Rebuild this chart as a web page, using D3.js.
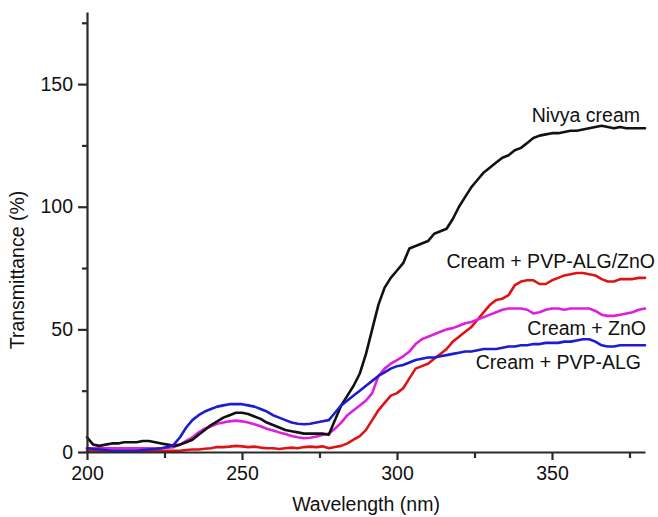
<!DOCTYPE html>
<html>
<head>
<meta charset="utf-8">
<script src="https://cdn.jsdelivr.net/npm/d3@7"></script>
<style>
  html, body { margin: 0; padding: 0; background: #fff; }
  svg { display: block; font-family: "Liberation Sans", Arial, Helvetica, sans-serif; }
</style>
</head>
<body>
<svg id="chart" width="658" height="517"></svg>
<script>
// ---- data ----
const wavelengths = [200,202,204,206,208,210,212,214,216,218,220,222,224,226,228,230,232,234,236,238,240,242,244,246,248,250,252,254,256,258,260,262,264,266,268,270,272,274,276,278,280,282,284,286,288,290,292,294,296,298,300,302,304,306,308,310,312,314,316,318,320,322,324,326,328,330,332,334,336,338,340,342,344,346,348,350,352,354,356,358,360,362,364,366,368,370,372,374,376,378,380];

const nivyaCream = [6,3,2.5,3,3.5,3.5,4,4,4,4.5,4.5,4,3.5,3,2.5,3,4,5,7,9,11,12.5,14,15,16,16,15.5,14.5,13.5,12,11,10,9,8.5,8,7.5,7.5,7.5,7.5,7,13,19,23,27,32,40,50,60,67,71,74,77,83,84,85,86,89,90,91,95,100,104,108,111,114,116,118,120,121,123,124,126,128,129,129.5,130,130,130.5,131,131,131.5,132,132.5,133,132.5,132,132.5,132,132,132,132];

const creamPvpAlg = [1.5,1.2,1,0.8,0.5,0.5,0.5,0.5,0.5,0.8,1,1.2,1.5,2,3,6,10,13,15,16.5,17.5,18.5,19,19.5,19.5,19.5,19,18.5,17.5,16.5,15,14,13,12,11.5,11.3,11.5,12,12.5,13,16,19,21,23,25,27,29,31,32.5,34,35,35.5,36.5,37.5,38,38.5,38.5,39,39.5,40,40.5,41,41,41.5,42,42,42,42.5,43,43,43.5,43.5,44,44,44.5,44.5,44.5,45,45,45.5,46,46,45,43.5,43,43,43.5,43.5,43.5,43.5,43.5];

const creamZnO = [1.5,1.5,1.5,1.5,1.5,1.5,1.5,1.5,1.5,1.5,1.5,1.5,1.5,1.8,2,3,4.5,6,8,9.5,10.5,11.5,12,12.5,12.8,12.5,12,11.3,10.5,9.5,8.8,8,7.3,6.5,6,5.6,5.8,6.3,6.9,7.5,9.5,12,15,17,19,21,24,31,34,36,37.5,39,41,44,46,47,48,49,50,50.5,51.5,52.5,53,54,55,56,57,58,58.5,58.5,58.5,58,56.5,57,58,58.5,58.5,58,58.5,58.5,58.5,58.5,57.5,56,55.5,55.5,56,56.5,57,58,58.5];

const creamPvpAlgZnO = [0.5,0.5,0.5,0.5,0.5,0.5,0.5,0.5,0.5,0.5,0.5,0.5,0.5,0.5,0.5,0.5,0.8,1,1,1.3,1.5,2,2,2.2,2.5,2.3,2,2.2,1.8,1.5,1.5,1.2,1.5,1.8,1.5,2,2.2,2,2.3,1.5,2,2.5,3.5,5,6.5,9,13,17,20,23,24,26,30,34,35,36,38,40,42,45,47,49,51,54,57,60,62,62.5,64,68,69.5,70,70,68.5,68.5,70,71,72,72.5,73,73,72.5,72,70.5,69.5,69.5,70.5,70.5,70.5,71,71];

const seriesNames = ["Nivya cream", "Cream + PVP-ALG", "Cream + ZnO", "Cream + PVP-ALG/ZnO"];
const seriesValues = [nivyaCream, creamPvpAlg, creamZnO, creamPvpAlgZnO];

const xMajorTicks = [200, 250, 300, 350];
const xMinorTicks = [225, 275, 325, 375];
const yMajorTicks = [0, 50, 100, 150];
const yMinorTicks = [25, 75, 125, 175];

const xTitle = "Wavelength (nm)";
const yTitle = "Transmittance (%)";

// ---- layout / style ----
const colors = ["#111111", "#1c1cd0", "#de1fde", "#de1414"];
const labelPos = [
  {x: 640, y: 122},
  {x: 641, y: 369},
  {x: 646, y: 335},
  {x: 655, y: 268}
];
const fontSize = 19.5;

const svg = d3.select("#chart");
const x = d3.scaleLinear().domain([200, 380]).range([87, 645]);
const y = d3.scaleLinear().domain([0, 179.4]).range([452, 12]);

// series lines
const line = d3.line().x((d, i) => x(wavelengths[i])).y(d => y(d)).curve(d3.curveLinear);
const drawOrder = [3, 2, 0, 1];
drawOrder.forEach(k => {
  svg.append("path")
    .datum(seriesValues[k])
    .attr("d", line)
    .attr("fill", "none")
    .attr("stroke", colors[k])
    .attr("stroke-width", 2.6)
    .attr("stroke-linejoin", "round")
    .attr("stroke-linecap", "round");
});

// axes
const axisColor = "#2a2a2a";
const xAxis = svg.append("g").attr("transform", `translate(0,${y(0)})`)
  .call(d3.axisBottom(x).tickValues(xMajorTicks).tickSize(8).tickPadding(6).tickSizeOuter(0));
const xMinor = svg.append("g").attr("transform", `translate(0,${y(0)})`)
  .call(d3.axisBottom(x).tickValues(xMinorTicks).tickSize(6).tickFormat("").tickSizeOuter(0));
const yAxis = svg.append("g").attr("transform", `translate(${x(200)},0)`)
  .call(d3.axisLeft(y).tickValues(yMajorTicks).tickSize(9).tickPadding(5).tickSizeOuter(0));
const yMinor = svg.append("g").attr("transform", `translate(${x(200)},0)`)
  .call(d3.axisLeft(y).tickValues(yMinorTicks).tickSize(5).tickFormat("").tickSizeOuter(0));

[xAxis, xMinor, yAxis, yMinor].forEach(g => {
  g.select(".domain").attr("stroke", axisColor).attr("stroke-width", 2.2);
  g.selectAll(".tick line").attr("stroke", axisColor).attr("stroke-width", 2.2);
  g.selectAll(".tick text").attr("fill", "#111").style("font-size", fontSize + "px")
    .style("font-family", '"Liberation Sans", Arial, Helvetica, sans-serif');
});
xMinor.select(".domain").remove();
yMinor.select(".domain").remove();

// axis titles
svg.append("text")
  .attr("x", 366).attr("y", 511)
  .attr("text-anchor", "middle")
  .style("font-size", fontSize + "px").attr("fill", "#111")
  .text(xTitle);
svg.append("text")
  .attr("transform", "translate(24,270) rotate(-90)")
  .attr("text-anchor", "middle")
  .style("font-size", fontSize + "px").attr("fill", "#111")
  .text(yTitle);

// series labels
seriesNames.forEach((name, k) => {
  svg.append("text")
    .attr("x", labelPos[k].x).attr("y", labelPos[k].y)
    .attr("text-anchor", "end")
    .style("font-size", fontSize + "px").attr("fill", "#111")
    .text(name);
});
</script>
</body>
</html>
